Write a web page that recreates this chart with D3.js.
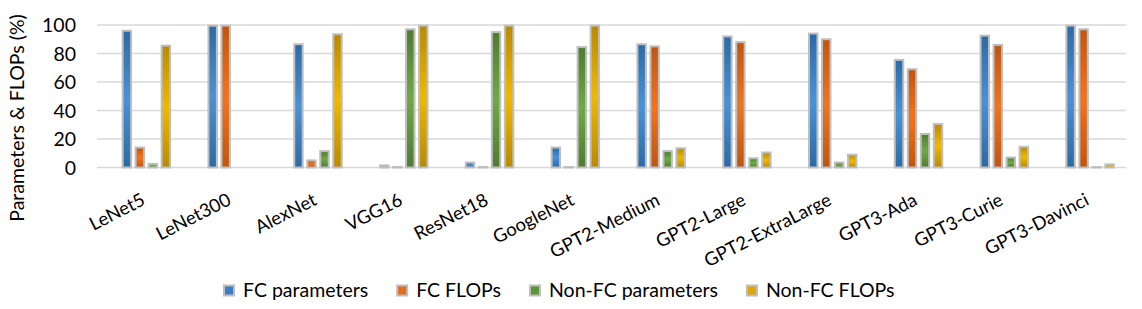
<!DOCTYPE html>
<html>
<head>
<meta charset="utf-8">
<script src="https://cdn.jsdelivr.net/npm/d3@7"></script>
<style>
  html, body { margin: 0; padding: 0; background: #fff; }
  svg { display: block; font-family: Lato, "Open Sans", sans-serif; }
</style>
</head>
<body>
<svg id="chart" width="1142" height="309"></svg>
<script>
const categories = ["LeNet5", "LeNet300", "AlexNet", "VGG16", "ResNet18", "GoogleNet",
  "GPT2-Medium", "GPT2-Large", "GPT2-ExtraLarge", "GPT3-Ada", "GPT3-Curie", "GPT3-Davinci"];
const seriesNames = ["FC parameters", "FC FLOPs", "Non-FC parameters", "Non-FC FLOPs"];
const fcParams    = [96, 99.5, 86.5, 1.5, 3.5, 14, 86.5, 92, 94, 75.5, 92.5, 99.5];
const fcFlops     = [14, 99.5, 5, 0.3, 0.3, 0.3, 85, 88, 90, 69, 86, 97];
const nonFcParams = [2.5, null, 11.5, 97, 95, 84.5, 11.5, 6.5, 3.5, 23.5, 7, 0.3];
const nonFcFlops  = [85.5, null, 93.5, 99.5, 99.5, 99.5, 13.5, 10.5, 9, 30.5, 14.5, 2.2];
const yTicks = [0, 20, 40, 60, 80, 100];
const yTitle = "Parameters & FLOPs (%)";

const seriesValues = [fcParams, fcFlops, nonFcParams, nonFcFlops];
const colors = [
  { edge: "#2C6AA6", mid: "#4A92D6", key: "#3A7DC4" },
  { edge: "#C0550F", mid: "#F0741F", key: "#E46C1A" },
  { edge: "#4F7B30", mid: "#6FAA45", key: "#5E9439" },
  { edge: "#B88A00", mid: "#F0B800", key: "#E0A800" }
];

const svg = d3.select("#chart");
const plotLeft = 97, plotRight = 1126;
const y = d3.scaleLinear().domain([0, 100]).range([167.5, 25]);
const x0 = d3.scaleBand().domain(categories).range([103.5, 1133]).padding(0);
const groupW = 52;
const x1 = d3.scaleBand().domain(seriesNames).range([0, groupW]).paddingInner(0.35).paddingOuter(0.175);

// gradients
const defs = svg.append("defs");
colors.forEach((c, i) => {
  const g = defs.append("linearGradient").attr("id", "g" + i)
    .attr("x1", 0).attr("y1", 0).attr("x2", 0).attr("y2", 1);
  g.append("stop").attr("offset", "0%").attr("stop-color", c.edge);
  g.append("stop").attr("offset", "50%").attr("stop-color", c.mid);
  g.append("stop").attr("offset", "100%").attr("stop-color", c.edge);
});

// gridlines
svg.append("g").selectAll("line").data(yTicks).join("line")
  .attr("x1", plotLeft).attr("x2", plotRight)
  .attr("y1", d => y(d)).attr("y2", d => y(d))
  .attr("stroke", "#D9D9D9").attr("stroke-width", 1.5);

// y tick labels
svg.append("g").selectAll("text").data(yTicks).join("text")
  .attr("x", 76).attr("y", d => y(d)).attr("dy", "0.36em")
  .attr("text-anchor", "end").attr("font-size", 19.5).attr("fill", "#000")
  .text(d => d);

// y title
svg.append("text")
  .attr("transform", "translate(24,118) rotate(-90)")
  .attr("text-anchor", "middle").attr("font-size", 19.5).attr("fill", "#000")
  .text(yTitle);

// bars
const rows = [];
categories.forEach((c, ci) => {
  seriesNames.forEach((s, si) => {
    const v = seriesValues[si][ci];
    if (v !== null && v !== undefined) rows.push({ cat: c, series: s, si, v });
  });
});
const gOff = (x0.bandwidth() - groupW) / 2;
svg.append("g").selectAll("rect").data(rows).join("rect")
  .attr("x", d => x0(d.cat) + gOff + x1(d.series))
  .attr("y", d => y(d.v))
  .attr("width", x1.bandwidth())
  .attr("height", d => y(0) - y(d.v))
  .attr("fill", d => `url(#g${d.si})`)
  .attr("stroke", "#BEBEBE").attr("stroke-width", 2);

// x labels
svg.append("g").selectAll("text").data(categories).join("text")
  .attr("transform", d => `translate(${x0(d) + x0.bandwidth() / 2},204) rotate(-27)`)
  .attr("text-anchor", "end").attr("font-size", 18.5).attr("fill", "#000")
  .text(d => d);

// legend
const legend = svg.append("g");
let lx = 224;
seriesNames.forEach((s, i) => {
  legend.append("rect").attr("x", lx).attr("y", 285.5).attr("width", 10).attr("height", 10)
    .attr("fill", colors[i].key).attr("stroke", "#BEBEBE").attr("stroke-width", 2);
  const t = legend.append("text").attr("x", lx + 19).attr("y", 296.5)
    .attr("font-size", 19.5).attr("fill", "#000").text(s);
  const w = t.node().getComputedTextLength();
  lx += 19 + w + 29;
});
</script>
</body>
</html>
